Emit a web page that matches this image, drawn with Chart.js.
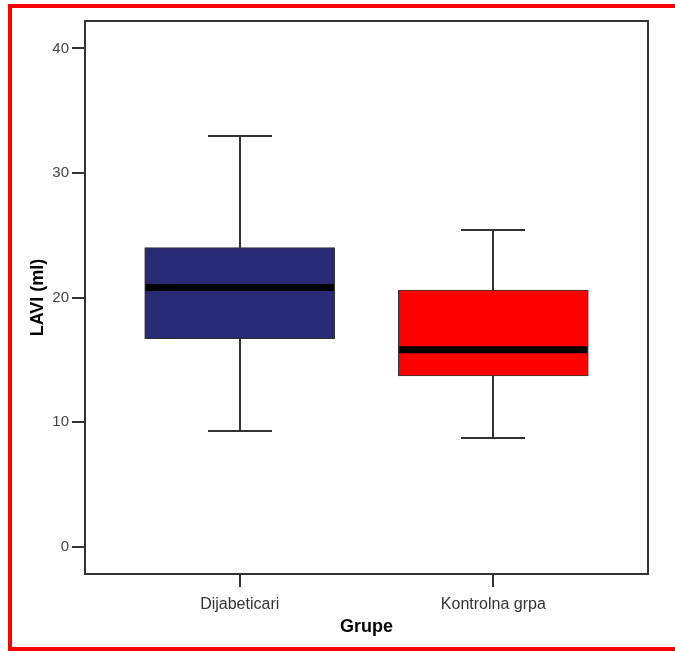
<!DOCTYPE html>
<html>
<head>
<meta charset="utf-8">
<script src="https://cdn.jsdelivr.net/npm/chart.js@4"></script>
<style>
  body { margin: 0; background: #fff; }
  #okvir { position: relative; width: 675px; height: 651px; }
  #crveno {
    position: absolute; left: 8px; top: 4px; right: 0; bottom: 0;
    border-left: 4px solid #ff0000; border-top: 4px solid #ff0000; border-bottom: 4px solid #ff0000;
    pointer-events: none;
  }
</style>
</head>
<body>
<div id="okvir">
  <canvas id="grafica" width="675" height="651"></canvas>
  <div id="crveno"></div>
</div>
<script>
const $grafica = document.querySelector("#grafica");

// podaci ocitani sa slike
const grupe = ['Dijabeticari', 'Kontrolna grpa'];
const minimum = [9.3, 8.7];
const q1 = [16.7, 13.7];
const medijana = [20.8, 15.8];
const q3 = [24.0, 20.6];
const maksimum = [33.0, 25.4];
const yTicks = [0, 10, 20, 30, 40];
const boje = ['#282a73', '#ff0000'];

const pozicije = grupe.map((g, i) => i + 1);

const kutije = {
    data: pozicije.map((x, i) => ({ x: x, y: [q1[i], q3[i]] })),
    backgroundColor: boje,
    borderColor: '#333333',
    borderWidth: 1,
    borderSkipped: false,
    barThickness: 190,
};

// brkovi, medijana i okvir
const boxPlugin = {
    id: 'boxPlugin',
    beforeDatasetsDraw(chart) {
        const ctx = chart.ctx;
        const x = chart.scales.x, y = chart.scales.y;
        ctx.save();
        ctx.strokeStyle = '#333333';
        ctx.lineWidth = 2;
        pozicije.forEach((p, i) => {
            const px = Math.round(x.getPixelForValue(p));
            ctx.beginPath();
            ctx.moveTo(px, y.getPixelForValue(minimum[i]));
            ctx.lineTo(px, y.getPixelForValue(maksimum[i]));
            ctx.stroke();
            [minimum[i], maksimum[i]].forEach(v => {
                const py = Math.round(y.getPixelForValue(v));
                ctx.beginPath();
                ctx.moveTo(px - 32, py);
                ctx.lineTo(px + 32, py);
                ctx.stroke();
            });
        });
        ctx.restore();
    },
    afterDatasetsDraw(chart) {
        const ctx = chart.ctx;
        const x = chart.scales.x, y = chart.scales.y;
        const a = chart.chartArea;
        ctx.save();
        ctx.strokeStyle = '#000000';
        ctx.lineWidth = 7;
        pozicije.forEach((p, i) => {
            const px = x.getPixelForValue(p);
            const py = y.getPixelForValue(medijana[i]);
            ctx.beginPath();
            ctx.moveTo(px - 94, py);
            ctx.lineTo(px + 94, py);
            ctx.stroke();
        });
        ctx.strokeStyle = '#333333';
        ctx.lineWidth = 2;
        ctx.beginPath();
        ctx.moveTo(a.left, a.top);
        ctx.lineTo(a.right, a.top);
        ctx.lineTo(a.right, a.bottom);
        ctx.stroke();
        ctx.restore();
    }
};

new Chart($grafica, {
    type: 'bar',
    data: {
        datasets: [kutije]
    },
    plugins: [boxPlugin],
    options: {
        responsive: false,
        animation: false,
        layout: { padding: { left: 0, top: 21, right: 27, bottom: 0 } },
        plugins: {
            legend: { display: false },
            tooltip: { enabled: false }
        },
        scales: {
            x: {
                type: 'linear',
                offset: false,
                min: 0.39,
                max: 2.61,
                afterBuildTicks: (s) => { s.ticks = pozicije.map(v => ({ value: v })); },
                afterFit: (s) => { s.height = 77; },
                ticks: {
                    callback: (v) => grupe[v - 1],
                    color: '#333333',
                    padding: 8,
                    font: { family: 'Liberation Sans', size: 16 }
                },
                grid: { display: true, offset: false, drawOnChartArea: false, drawTicks: true, tickLength: 13, color: '#333333', lineWidth: 2 },
                border: { display: true, color: '#333333', width: 2 },
                title: {
                    display: true,
                    text: 'Grupe',
                    color: '#000000',
                    padding: { top: 0, bottom: 13 },
                    font: { family: 'Liberation Sans', size: 18, weight: 'bold' }
                }
            },
            y: {
                min: -2.2,
                max: 42.2,
                afterBuildTicks: (s) => { s.ticks = yTicks.map(v => ({ value: v })); },
                afterFit: (s) => { s.width = 85; },
                ticks: {
                    color: '#444444',
                    padding: 3,
                    font: { family: 'Liberation Sans', size: 15 }
                },
                grid: { display: true, drawOnChartArea: false, drawTicks: true, tickLength: 13, color: '#333333', lineWidth: 2 },
                border: { display: true, color: '#333333', width: 2 },
                title: {
                    display: true,
                    text: 'LAVI (ml)',
                    color: '#000000',
                    padding: { top: 27, bottom: 0 },
                    font: { family: 'Liberation Sans', size: 18, weight: 'bold' }
                }
            }
        }
    }
});
</script>
</body>
</html>
